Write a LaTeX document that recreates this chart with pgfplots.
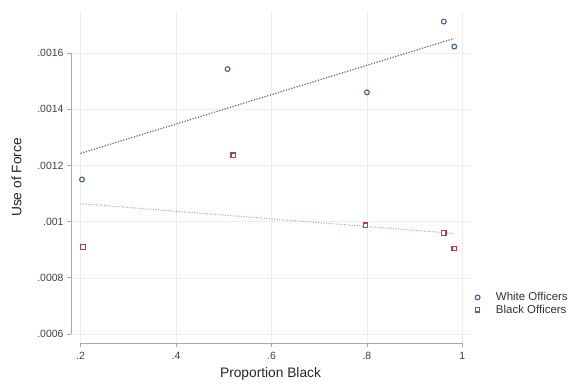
\documentclass[border=0pt]{standalone}
\usepackage{pgfplots}
\pgfplotsset{compat=1.18}
\usepackage{fontspec}
\setmainfont{Liberation Sans}
\definecolor{wcol}{RGB}{70,105,145}
\definecolor{bcol}{RGB}{172,64,88}
\definecolor{wfit}{RGB}{86,100,122}
\definecolor{bfit}{RGB}{190,150,160}
\definecolor{gridc}{RGB}{237,237,237}
\definecolor{axc}{RGB}{168,168,168}
\begin{document}
\begin{tikzpicture}
\begin{axis}[
  scale only axis,
  width=399bp, height=331bp,
  xmin=0.18, xmax=1.016,
  ymin=0.000568, ymax=0.001746,
  axis line style={draw=none},
  xtick={0.2,0.4,0.6,0.8,1},
  xticklabels={.2,.4,.6,.8,1},
  ytick={0.0006,0.0008,0.001,0.0012,0.0014,0.0016},
  yticklabels={.0006,.0008,.001,.0012,.0014,.0016},
  scaled ticks=false,
  tick align=outside,
  tick style={axc, line width=0.8pt},
  major tick length=4bp,
  xtick pos=bottom, ytick pos=left,
  grid=major,
  major grid style={gridc, line width=0.6pt},
  tick label style={font=\fontsize{10.5}{12}\selectfont, text=black!75},
  xticklabel style={yshift=-2bp},
  xlabel={Proportion Black},
  ylabel={Use of Force},
  label style={font=\fontsize{13.8}{15}\selectfont, text=black!85},
  xlabel style={yshift=-1bp},
  ylabel style={yshift=9bp},
  legend style={draw=none, fill=none, at={(rel axis cs:1.005,0.119)}, anchor=west,
    font=\fontsize{11.5}{12}\selectfont, row sep=-1.5bp, text=black!80,
    /tikz/every odd column/.style={column sep=14bp}},
  legend cell align=left,
  clip=false,
]
\draw[axc, line width=1pt] (axis cs:0.18,0.0006) -- (axis cs:0.18,0.0016);
\draw[axc, line width=1pt] (axis cs:0.2,0.000568) -- (axis cs:1,0.000568);
\addplot[only marks, mark=o, mark size=2.4pt, line width=1.2pt, draw=wcol,
  mark options={draw=wcol, fill=white, solid}]
  coordinates {(0.203,0.00115) (0.508,0.001543) (0.80,0.00146) (0.961,0.001712) (0.983,0.001623)};
\addlegendentry{White Officers}
\addplot[only marks, mark=square*, mark size=2.3pt, line width=1.2pt, draw=bcol,
  mark options={draw=bcol, fill=white, solid}]
  coordinates {(0.205,0.00091) (0.52,0.001236) (0.797,0.000987) (0.961,0.00096) (0.983,0.000904)};
\addlegendentry{Black Officers}
\addplot[wfit, line width=1.2pt, dash pattern=on 1.2pt off 1.6pt, forget plot]
  coordinates {(0.2,0.001243) (0.983,0.001652)};
\addplot[bfit, line width=1pt, dash pattern=on 1pt off 1.6pt, forget plot]
  coordinates {(0.2,0.001064) (0.983,0.000958)};
\coordinate (BL) at (rel axis cs:-0.178,-0.1239);
\coordinate (TR) at (rel axis cs:1.2506,1.0363);
\end{axis}
\pgfresetboundingbox
\useasboundingbox (BL) rectangle (TR);
\end{tikzpicture}
\end{document}
